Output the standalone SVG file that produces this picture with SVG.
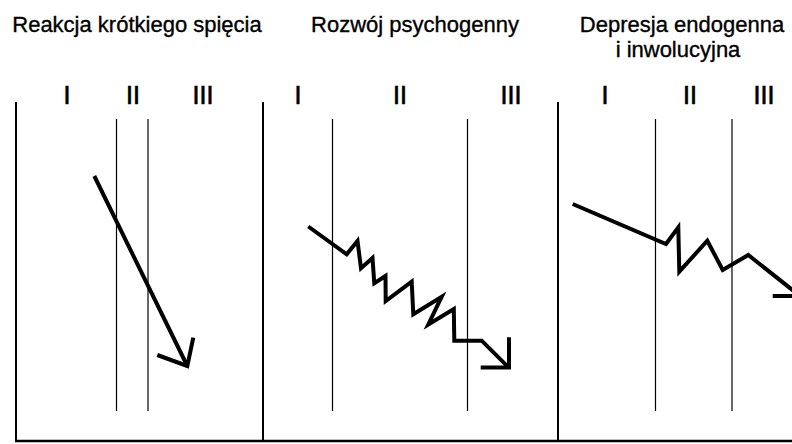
<svg xmlns="http://www.w3.org/2000/svg" width="792" height="444" viewBox="0 0 792 444">
<style>
.title{font-family:"Liberation Sans",Arial,sans-serif;font-size:22px;fill:#000;stroke:#000;stroke-width:0.35;text-anchor:middle}
.num{font-family:"Liberation Sans",Arial,sans-serif;font-size:25px;fill:#000;stroke:#000;stroke-width:0.7;text-anchor:middle}
.frame{stroke:#000;stroke-width:2;fill:none}
.inner{stroke:#000;stroke-width:1.2;fill:none}
.curve{stroke:#000;stroke-width:4;fill:none;stroke-linejoin:miter;stroke-linecap:butt}
</style>
<rect width="792" height="444" fill="#fff"/>
<g id="frame">
<line class="frame" x1="16" y1="102" x2="16" y2="442"/>
<line class="frame" x1="263" y1="102" x2="263" y2="442"/>
<line class="frame" x1="558" y1="102" x2="558" y2="442"/>
<line x1="15" y1="441" x2="792" y2="441" stroke="#000" stroke-width="2.5"/>
</g>
<g id="panel1">
<text class="title" x="137" y="32">Reakcja krótkiego spięcia</text>
<text class="num" x="67" y="104">I</text>
<text class="num" x="133" y="104">II</text>
<text class="num" x="203" y="104">III</text>
<line class="inner" x1="116.5" y1="119" x2="116.5" y2="411"/>
<line class="inner" x1="148" y1="119" x2="148" y2="411"/>
</g>
<g id="panel2">
<text class="title" x="415" y="32">Rozwój psychogenny</text>
<text class="num" x="298" y="104">I</text>
<text class="num" x="400" y="104">II</text>
<text class="num" x="511" y="104">III</text>
<line class="inner" x1="332.5" y1="119" x2="332.5" y2="411"/>
<line class="inner" x1="467.5" y1="119" x2="467.5" y2="411"/>
</g>
<g id="panel3">
<text class="title" x="682" y="32">Depresja endogenna</text>
<text class="title" x="678" y="57">i inwolucyjna</text>
<text class="num" x="605" y="104">I</text>
<text class="num" x="690" y="104">II</text>
<text class="num" x="764" y="104">III</text>
<line class="inner" x1="655.5" y1="119" x2="655.5" y2="411"/>
<line class="inner" x1="732" y1="119" x2="732" y2="411"/>
</g>
<g id="connectors">
<polyline class="curve" points="94.3,176 187.3,366"/>
<polyline class="curve" points="157.3,355 187.3,366 193.3,337.7"/>
<polyline class="curve" points="308.3,226.5 346.7,254.3 357.5,241 361,268.3 372.5,258 374.3,283.3 385.5,276 385.7,301 411.7,281.7 413.3,314.3 441.7,296.7 428.3,324.5 453.8,309 454.3,340.7 481.7,340.7 508.5,367.3"/>
<polyline class="curve" points="480.7,367.5 509,367.5 509,337.3"/>
<polyline class="curve" points="572.7,204 666,244 678.3,227.3 679.3,271.7 707.3,240.7 722.7,270 748.3,255 800,296"/>
<polyline class="curve" points="772.7,296 800,296"/>
</g>
</svg>
